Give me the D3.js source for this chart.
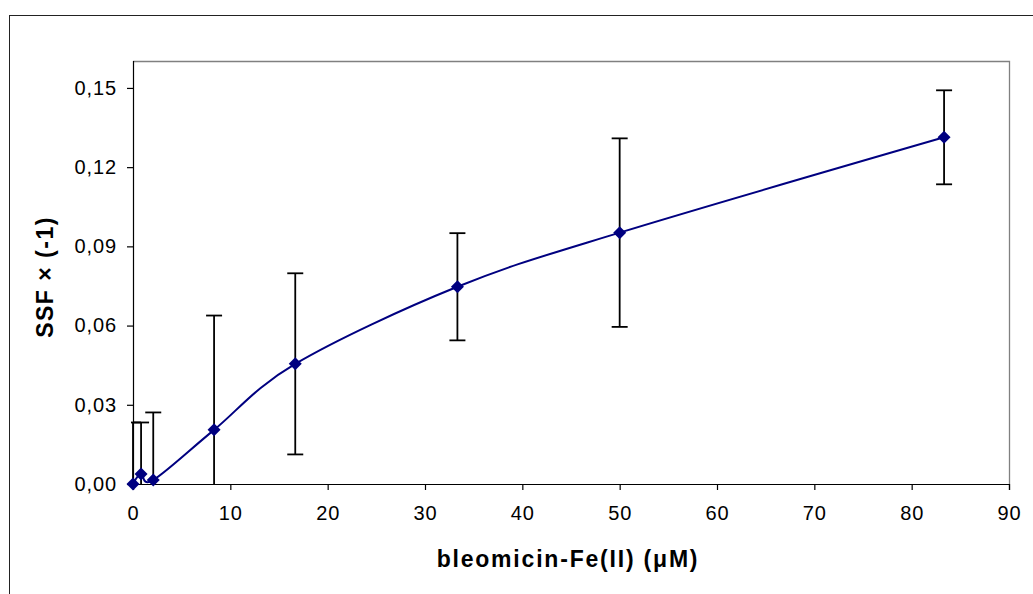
<!DOCTYPE html>
<html>
<head>
<meta charset="utf-8">
<script src="https://cdn.jsdelivr.net/npm/d3@7"></script>
<style>
  body { margin: 0; background: #fff; }
  svg { display: block; font-family: "Liberation Sans", Arial, sans-serif; }
</style>
</head>
<body>
<div id="chart"></div>
<script>
// bleomicin-Fe(II) concentration (uM)
var conc = [0, 0.83, 2.08, 8.33, 16.67, 33.33, 50, 83.33];
// SSF x (-1) mean values
var ssf = [0.0000, 0.0038, 0.0015, 0.0205, 0.0455, 0.0747, 0.0952, 0.1313];
// error (+/-)
var err = [0.0233, 0.0195, 0.0256, 0.0433, 0.0343, 0.0203, 0.0357, 0.0178];

var xTicks = [0, 10, 20, 30, 40, 50, 60, 70, 80, 90];
var yTicks = [0, 0.03, 0.06, 0.09, 0.12, 0.15];

var xTitle = "bleomicin-Fe(II) (\u03bcM)";
var yTitle = "SSF \u00d7 (-1)";

var W = 1033, H = 594;
var margin = {top: 61, right: 24, bottom: 110, left: 133},
    width = W - margin.left - margin.right,   // 876
    height = H - margin.top - margin.bottom;  // 423

var svg = d3.select("#chart")
  .append("svg")
    .attr("width", W)
    .attr("height", H);

// outer chart frame (runs off the right and bottom edges)
svg.append("rect")
  .attr("x", 9.5).attr("y", 15.5)
  .attr("width", W + 20).attr("height", H + 20)
  .attr("fill", "none")
  .attr("stroke", "#222")
  .attr("stroke-width", 1);

var g = svg.append("g")
  .attr("transform", "translate(" + margin.left + "," + margin.top + ")");

var x = d3.scaleLinear().domain([0, 90]).range([0, width]);
var y = d3.scaleLinear().domain([0, 0.1602]).range([height, 0]);

var fmt = d3.formatLocale({decimal: ",", thousands: ".", grouping: [3], currency: ["", ""]}).format(".2f");

// plot area border (grey top and right)
g.append("path")
  .attr("d", "M0,0.5H" + (width + 0.5) + "V" + height)
  .attr("fill", "none")
  .attr("stroke", "#808080")
  .attr("stroke-width", 1.3);

g.append("clipPath").attr("id", "clip")
  .append("rect").attr("x", -2).attr("y", 0).attr("width", width + 4).attr("height", height);

// x axis
var xAxis = g.append("g")
  .attr("transform", "translate(0," + height + ")")
  .call(d3.axisBottom(x).tickValues(xTicks).tickSize(6).tickPadding(16).tickFormat(d3.format("d")));
// y axis
var yAxis = g.append("g")
  .call(d3.axisLeft(y).tickValues(yTicks).tickSize(6).tickPadding(10).tickFormat(fmt));

[xAxis, yAxis].forEach(function(a) {
  a.select(".domain").attr("stroke", "#000").attr("stroke-width", 1.2);
  a.selectAll(".tick line").attr("stroke", "#000").attr("stroke-width", 1.2);
  a.selectAll("text")
    .attr("fill", "#000")
    .style("font-size", "20px")
    .style("letter-spacing", "0.9px");
});
yAxis.select(".domain").attr("d", "M-6," + height + ".5H0.5V0");
xAxis.selectAll("text").attr("dy", "0.71em");

var data = conc.map(function(c, i) { return {x: c, y: ssf[i], e: err[i]}; });

var plot = g.append("g").attr("clip-path", "url(#clip)");

// error bars
var capW = 8;
data.forEach(function(d) {
  var top = y(d.y + d.e), bot = y(d.y - d.e), cx = x(d.x);
  plot.append("line")
    .attr("x1", cx).attr("x2", cx).attr("y1", top).attr("y2", Math.min(bot, height))
    .attr("stroke", "#000").attr("stroke-width", 1.8);
  plot.append("line")
    .attr("x1", cx - capW).attr("x2", cx + capW).attr("y1", top).attr("y2", top)
    .attr("stroke", "#000").attr("stroke-width", 1.8);
  if (d.y - d.e >= 0) {
    plot.append("line")
      .attr("x1", cx - capW).attr("x2", cx + capW).attr("y1", bot).attr("y2", bot)
      .attr("stroke", "#000").attr("stroke-width", 1.8);
  }
});

// smoothed line (Excel-like uniform spline)
var line = d3.line()
  .x(function(d) { return x(d.x); })
  .y(function(d) { return y(d.y); })
  .curve(d3.curveCardinal.tension(0));

plot.append("path")
  .datum(data)
  .attr("fill", "none")
  .attr("stroke", "#000080")
  .attr("stroke-width", 2)
  .attr("d", line);

// diamond markers
var r = 6.5;
g.selectAll(".marker")
  .data(data)
  .enter()
  .append("path")
    .attr("class", "marker")
    .attr("d", function(d) {
      var cx = x(d.x), cy = y(d.y);
      return "M" + cx + "," + (cy - r) + "L" + (cx + r) + "," + cy + "L" + cx + "," + (cy + r) + "L" + (cx - r) + "," + cy + "Z";
    })
    .attr("fill", "#000080");

// axis titles
svg.append("text")
  .attr("x", margin.left + width / 2 - 3)
  .attr("y", 567)
  .attr("text-anchor", "middle")
  .style("font-size", "23px")
  .style("font-weight", "bold")
  .style("letter-spacing", "1.8px")
  .text(xTitle);

svg.append("text")
  .attr("transform", "translate(53,277) rotate(-90)")
  .attr("text-anchor", "middle")
  .style("font-size", "23px")
  .style("font-weight", "bold")
  .style("letter-spacing", "1.5px")
  .text(yTitle);
</script>
</body>
</html>
